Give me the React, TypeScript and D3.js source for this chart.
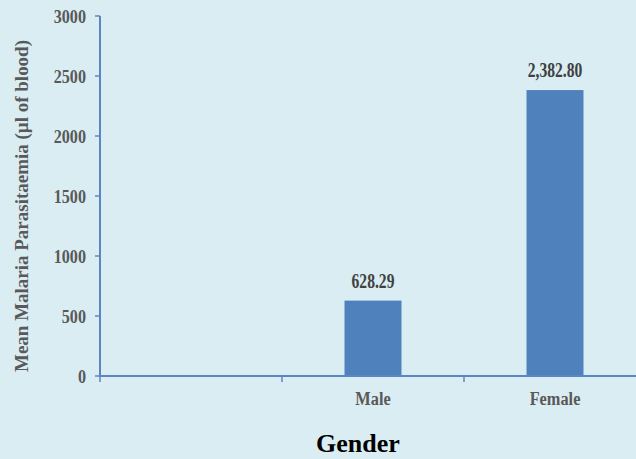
import React from "react";
import * as d3 from "d3";

// Mean malaria parasitaemia by gender
const categories: string[] = ["", "Male", "Female"];
const meanValues: (number | null)[] = [null, 628.29, 2382.8];
const valueLabels: string[] = ["", "628.29", "2,382.80"];
const yTicks: number[] = [0, 500, 1000, 1500, 2000, 2500, 3000];

const W = 636;
const H = 459;
const margin = { left: 100, top: 16, bottom: 82 };
const plotRight = 646;

const BG = "#d9edf3";
const BAR = "#4f81bd";
const AXIS = "#5a87c3";
const SERIF = "'Liberation Serif', 'Times New Roman', serif";

export default function App() {
  const y = d3.scaleLinear().domain([0, 3000]).range([H - margin.bottom - 1, margin.top]);
  const x = d3
    .scaleBand<string>()
    .domain(categories.map((c, i) => `${i}:${c}`))
    .range([margin.left, plotRight])
    .paddingInner(0.687)
    .paddingOuter(0.3435);
  const band = d3.scaleBand<string>().domain(categories.map((c, i) => `${i}:${c}`)).range([margin.left, plotRight]);
  const y0 = y(0);

  return (
    <svg
      width={W}
      height={H}
      style={{ position: "absolute", left: 0, top: 0, display: "block" }}
    >
      <rect x={0} y={0} width={W} height={H} fill={BG} />

      {/* bars */}
      {categories.map((c, i) => {
        const v = meanValues[i];
        if (v == null) return null;
        const key = `${i}:${c}`;
        return (
          <rect
            key={key}
            x={x(key)}
            y={y(v)}
            width={x.bandwidth()}
            height={y0 - y(v)}
            fill={BAR}
          />
        );
      })}

      {/* value labels */}
      {categories.map((c, i) => {
        const v = meanValues[i];
        if (v == null) return null;
        const key = `${i}:${c}`;
        const cx = (x(key) as number) + x.bandwidth() / 2;
        return (
          <text
            key={"v" + key}
            transform={`translate(${cx},${y(v) - 13}) scale(0.78,1)`}
            textAnchor="middle"
            fontFamily={SERIF}
            fontWeight="bold"
            fontSize={20}
            fill="#404040"
          >
            {valueLabels[i]}
          </text>
        );
      })}

      {/* y axis */}
      <line x1={margin.left} x2={margin.left} y1={y(3000)} y2={y0 + 1} stroke={AXIS} strokeWidth={2} />
      {yTicks.map((t) => (
        <g key={t}>
          <line x1={margin.left - 5} x2={margin.left} y1={y(t)} y2={y(t)} stroke={AXIS} strokeWidth={1.5} />
          <text
            transform={`translate(${margin.left - 14},${y(t) + 7}) scale(0.85,1)`}
            textAnchor="end"
            fontFamily={SERIF}
            fontWeight="bold"
            fontSize={19}
            fill="#595959"
          >
            {t}
          </text>
        </g>
      ))}

      {/* x axis */}
      <line x1={margin.left - 1} x2={W} y1={y0} y2={y0} stroke={AXIS} strokeWidth={2} />
      {categories.map((c, i) => {
        const key = `${i}:${c}`;
        const bx = band(key) as number;
        return (
          <g key={"x" + key}>
            <line x1={bx} x2={bx} y1={y0} y2={y0 + 6} stroke={AXIS} strokeWidth={1.5} />
            <text
              transform={`translate(${bx + band.bandwidth() / 2},${405}) scale(0.86,1)`}
              textAnchor="middle"
              fontFamily={SERIF}
              fontWeight="bold"
              fontSize={19}
              fill="#595959"
            >
              {c}
            </text>
          </g>
        );
      })}

      {/* axis titles */}
      <text
        transform={`translate(28,206) rotate(-90)`}
        textAnchor="middle"
        fontFamily={SERIF}
        fontWeight="bold"
        fontSize={18}
        fill="#595959"
        textLength={332}
        lengthAdjust="spacingAndGlyphs"
      >
        Mean Malaria Parasitaemia (µl of blood)
      </text>
      <text
        x={358}
        y={452}
        textAnchor="middle"
        fontFamily={SERIF}
        fontWeight="bold"
        fontSize={26}
        fill="#000000"
      >
        Gender
      </text>
    </svg>
  );
}
